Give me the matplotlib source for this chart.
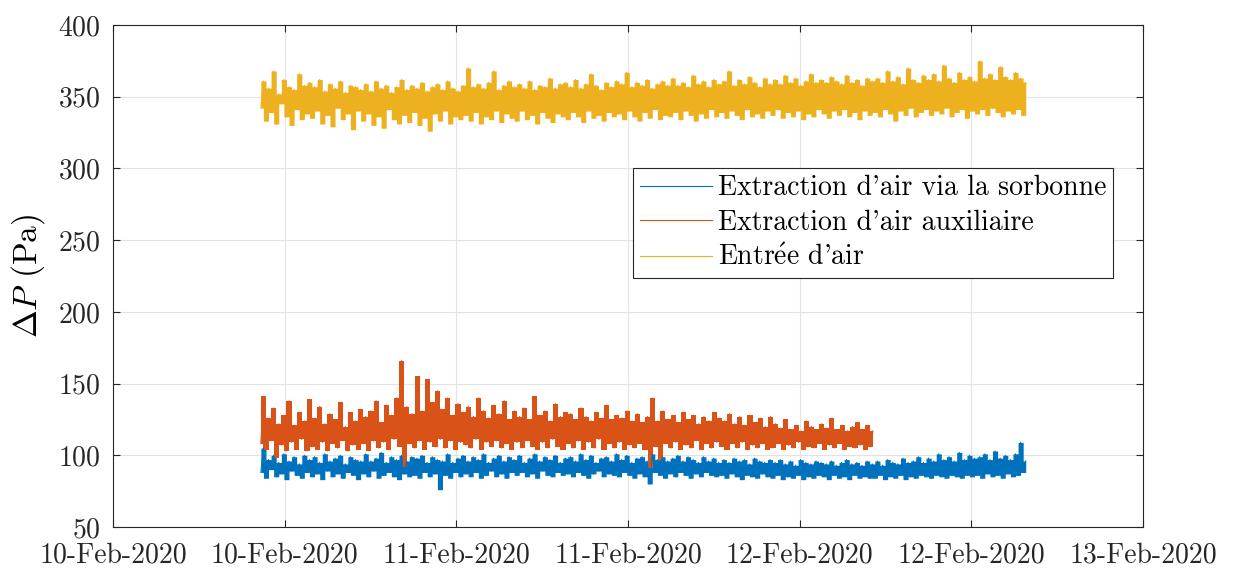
import numpy as np
import matplotlib.pyplot as plt
import matplotlib.dates as mdates
from datetime import datetime, timedelta

plt.rcParams['font.family'] = ['cmr10', 'DejaVu Serif']
plt.rcParams['mathtext.fontset'] = 'cm'
plt.rcParams['axes.unicode_minus'] = False
plt.rcParams['axes.formatter.use_mathtext'] = True

# acquisition window
t_start = datetime(2020, 2, 10, 10, 20)
t_end = datetime(2020, 2, 12, 15, 48)
t_end_aux = datetime(2020, 2, 12, 5, 7)

# pressure samples (Pa), evenly spaced in time
sorbonne = [88, 105, 84, 97, 90, 100, 85, 95, 87, 101, 83, 96, 89, 99, 86, 94, 84, 100, 88, 97,
            85, 99, 87, 95, 83, 101, 89, 96, 85, 98, 87, 100, 84, 94, 88, 99, 86, 97, 83, 96,
            87, 101, 85, 96, 89, 98, 84, 102, 86, 95, 88, 99, 85, 97, 83, 100, 87, 96, 85, 99,
            86, 98, 84, 100, 88, 95, 85, 99, 87, 97, 76, 96, 86, 101, 84, 95, 88, 98, 85, 100,
            87, 96, 85, 99, 88, 97, 84, 101, 86, 95, 89, 98, 85, 100, 87, 96, 84, 99, 88, 97,
            86, 100, 88, 95, 85, 98, 87, 101, 84, 96, 89, 99, 86, 97, 85, 100, 88, 95, 86, 98,
            87, 99, 85, 96, 88, 101, 86, 97, 84, 100, 87, 95, 89, 98, 85, 99, 87, 96, 86, 101,
            85, 97, 88, 100, 86, 95, 84, 98, 87, 99, 85, 96, 80, 101, 88, 97, 86, 99, 84, 96,
            87, 98, 85, 100, 88, 96, 86, 99, 84, 97, 87, 95, 85, 99, 88, 96, 86, 98, 85, 95,
            86, 97, 84, 95, 87, 98, 85, 96, 83, 97, 86, 94, 85, 98, 84, 96, 87, 95, 85, 97,
            84, 95, 86, 97, 83, 94, 85, 96, 84, 93, 86, 97, 83, 95, 85, 94, 84, 96, 86, 95,
            85, 94, 83, 96, 86, 93, 84, 95, 85, 97, 83, 94, 86, 95, 84, 93, 85, 96, 84, 94,
            84, 96, 86, 93, 83, 97, 85, 95, 84, 94, 86, 98, 83, 95, 85, 96, 84, 99, 86, 95,
            85, 98, 84, 96, 86, 101, 85, 97, 84, 99, 86, 96, 85, 102, 84, 97, 86, 100, 85, 98,
            86, 99, 84, 101, 87, 97, 85, 103, 86, 98, 84, 100, 87, 97, 85, 101, 86, 109, 88, 96]

auxiliaire = [108, 141, 104, 126, 110, 133, 98, 122, 107, 128, 103, 138, 109, 121, 104, 130, 111, 124, 103, 139,
              106, 126, 104, 134, 109, 122, 103, 129, 108, 125, 105, 137, 110, 120, 103, 130, 107, 124, 104, 132,
              108, 127, 103, 131, 110, 138, 105, 123, 109, 135, 104, 128, 111, 140, 106, 166, 92, 134, 108, 129,
              105, 155, 110, 131, 104, 153, 109, 137, 106, 145, 111, 132, 105, 140, 110, 128, 104, 136, 109, 130,
              107, 134, 105, 127, 111, 140, 104, 131, 109, 126, 106, 135, 110, 129, 105, 138, 108, 125, 104, 131,
              109, 127, 105, 133, 110, 125, 106, 141, 104, 128, 109, 131, 105, 124, 111, 136, 106, 127, 104, 130,
              108, 129, 105, 125, 110, 133, 104, 127, 109, 124, 105, 130, 111, 126, 104, 135, 108, 125, 105, 128,
              109, 126, 104, 131, 107, 124, 105, 129, 108, 123, 104, 127, 91, 140, 106, 124, 97, 131, 108, 125,
              105, 128, 109, 123, 104, 130, 107, 125, 105, 128, 110, 122, 104, 127, 108, 124, 105, 130, 109, 126,
              106, 124, 104, 129, 108, 122, 105, 127, 109, 121, 104, 128, 107, 123, 105, 126, 108, 120, 104, 127,
              105, 122, 108, 119, 104, 125, 107, 118, 105, 121, 109, 117, 104, 124, 106, 120, 105, 118, 108, 122,
              104, 119, 107, 126, 105, 118, 108, 121, 104, 117, 106, 120, 105, 123, 107, 118, 104, 121, 106, 117]

entree = [342, 361, 333, 356, 339, 368, 331, 352, 345, 362, 336, 357, 330, 355, 341, 366, 334, 358, 338, 360,
          335, 357, 340, 362, 331, 354, 337, 359, 329, 356, 342, 361, 334, 353, 338, 358, 327, 357, 340, 355,
          333, 359, 338, 354, 330, 361, 336, 356, 328, 358, 341, 353, 334, 357, 331, 362, 337, 355, 332, 358,
          339, 356, 330, 360, 335, 354, 326, 357, 338, 359, 333, 355, 340, 361, 331, 356, 336, 354, 334, 358,
          337, 370, 333, 357, 339, 359, 331, 356, 336, 360, 334, 368, 340, 355, 332, 358, 338, 361, 335, 357,
          333, 359, 340, 356, 334, 361, 337, 355, 331, 358, 339, 357, 335, 363, 332, 356, 338, 359, 336, 360,
          334, 357, 339, 362, 336, 356, 332, 359, 340, 366, 335, 358, 337, 355, 333, 360, 339, 357, 336, 361,
          338, 359, 334, 367, 340, 357, 336, 360, 333, 358, 339, 362, 335, 356, 341, 359, 334, 361, 337, 358,
          336, 363, 339, 358, 334, 360, 340, 357, 337, 365, 333, 359, 338, 361, 335, 357, 341, 362, 336, 359,
          339, 361, 335, 368, 340, 358, 337, 362, 334, 359, 341, 364, 336, 360, 338, 357, 335, 363, 340, 359,
          337, 362, 341, 359, 335, 365, 339, 360, 336, 363, 340, 358, 334, 361, 338, 366, 336, 360, 341, 362,
          338, 360, 335, 364, 340, 361, 337, 359, 341, 365, 336, 360, 339, 362, 334, 358, 340, 363, 337, 361,
          339, 363, 336, 360, 341, 368, 338, 361, 333, 364, 340, 359, 337, 370, 342, 362, 336, 360, 339, 365,
          341, 362, 337, 366, 340, 361, 338, 372, 342, 363, 336, 360, 339, 367, 341, 362, 335, 364, 340, 361,
          338, 375, 341, 363, 337, 366, 342, 362, 339, 371, 336, 364, 340, 362, 338, 367, 341, 363, 337, 360]

labels = ["Extraction d'air via la sorbonne",
          "Extraction d'air auxiliaire",
          r"Entr$\acute{\mathrm{e}}$e d'air"]
colors = ['#0072BD', '#D95319', '#EDB120']


def draw(ax, values, t0, t1, color, label):
    t = np.linspace(mdates.date2num(t0), mdates.date2num(t1), len(values))
    v = np.asarray(values, dtype=float)
    # span covered by the trace between consecutive samples (dense signal look)
    lo = np.append(np.minimum(v[:-1], v[1:]), v[-1])
    hi = np.append(np.maximum(v[:-1], v[1:]), v[-1])
    ax.fill_between(t, lo, hi, step='post', color=color, lw=0)
    ax.plot(t, v, color=color, lw=0.8, label=label)


fig = plt.figure(figsize=(12.34, 5.68), dpi=100)
ax = fig.add_axes([0.0916, 0.0722, 0.8347, 0.8838])

draw(ax, sorbonne, t_start, t_end, colors[0], labels[0])
draw(ax, auxiliaire, t_start, t_end_aux, colors[1], labels[1])
draw(ax, entree, t_start, t_end, colors[2], labels[2])

day0 = datetime(2020, 2, 10)
ticks = [mdates.date2num(day0 + timedelta(hours=12 * i)) for i in range(7)]
ax.set_xticks(ticks)
ax.set_xlim(ticks[0], ticks[-1])
ax.xaxis.set_major_formatter(mdates.DateFormatter('%d-%b-%Y'))
ax.set_ylim(50, 400)
ax.set_yticks(np.arange(50, 401, 50))

ax.grid(True, color='#e3e3e3', lw=0.8)
ax.set_axisbelow(True)
ax.tick_params(direction='in', top=True, right=True, length=5,
               labelsize=20, colors='#262626', labelcolor='#262626')
ax.tick_params(axis='x', pad=11)
ax.tick_params(axis='y', pad=9)
for s in ax.spines.values():
    s.set_color('#262626')
    s.set_linewidth(0.8)
ax.set_ylabel(r'$\Delta P$ (Pa)', fontsize=24, labelpad=8)

leg = ax.legend(loc='upper right', bbox_to_anchor=(0.971, 0.715), borderaxespad=0,
                fontsize=20, fancybox=False, framealpha=1, edgecolor='#262626',
                handlelength=2.6, handletextpad=0.2, borderpad=0.25, labelspacing=0.3)
leg.get_frame().set_linewidth(0.8)

fig.savefig('out.png', dpi=100)
